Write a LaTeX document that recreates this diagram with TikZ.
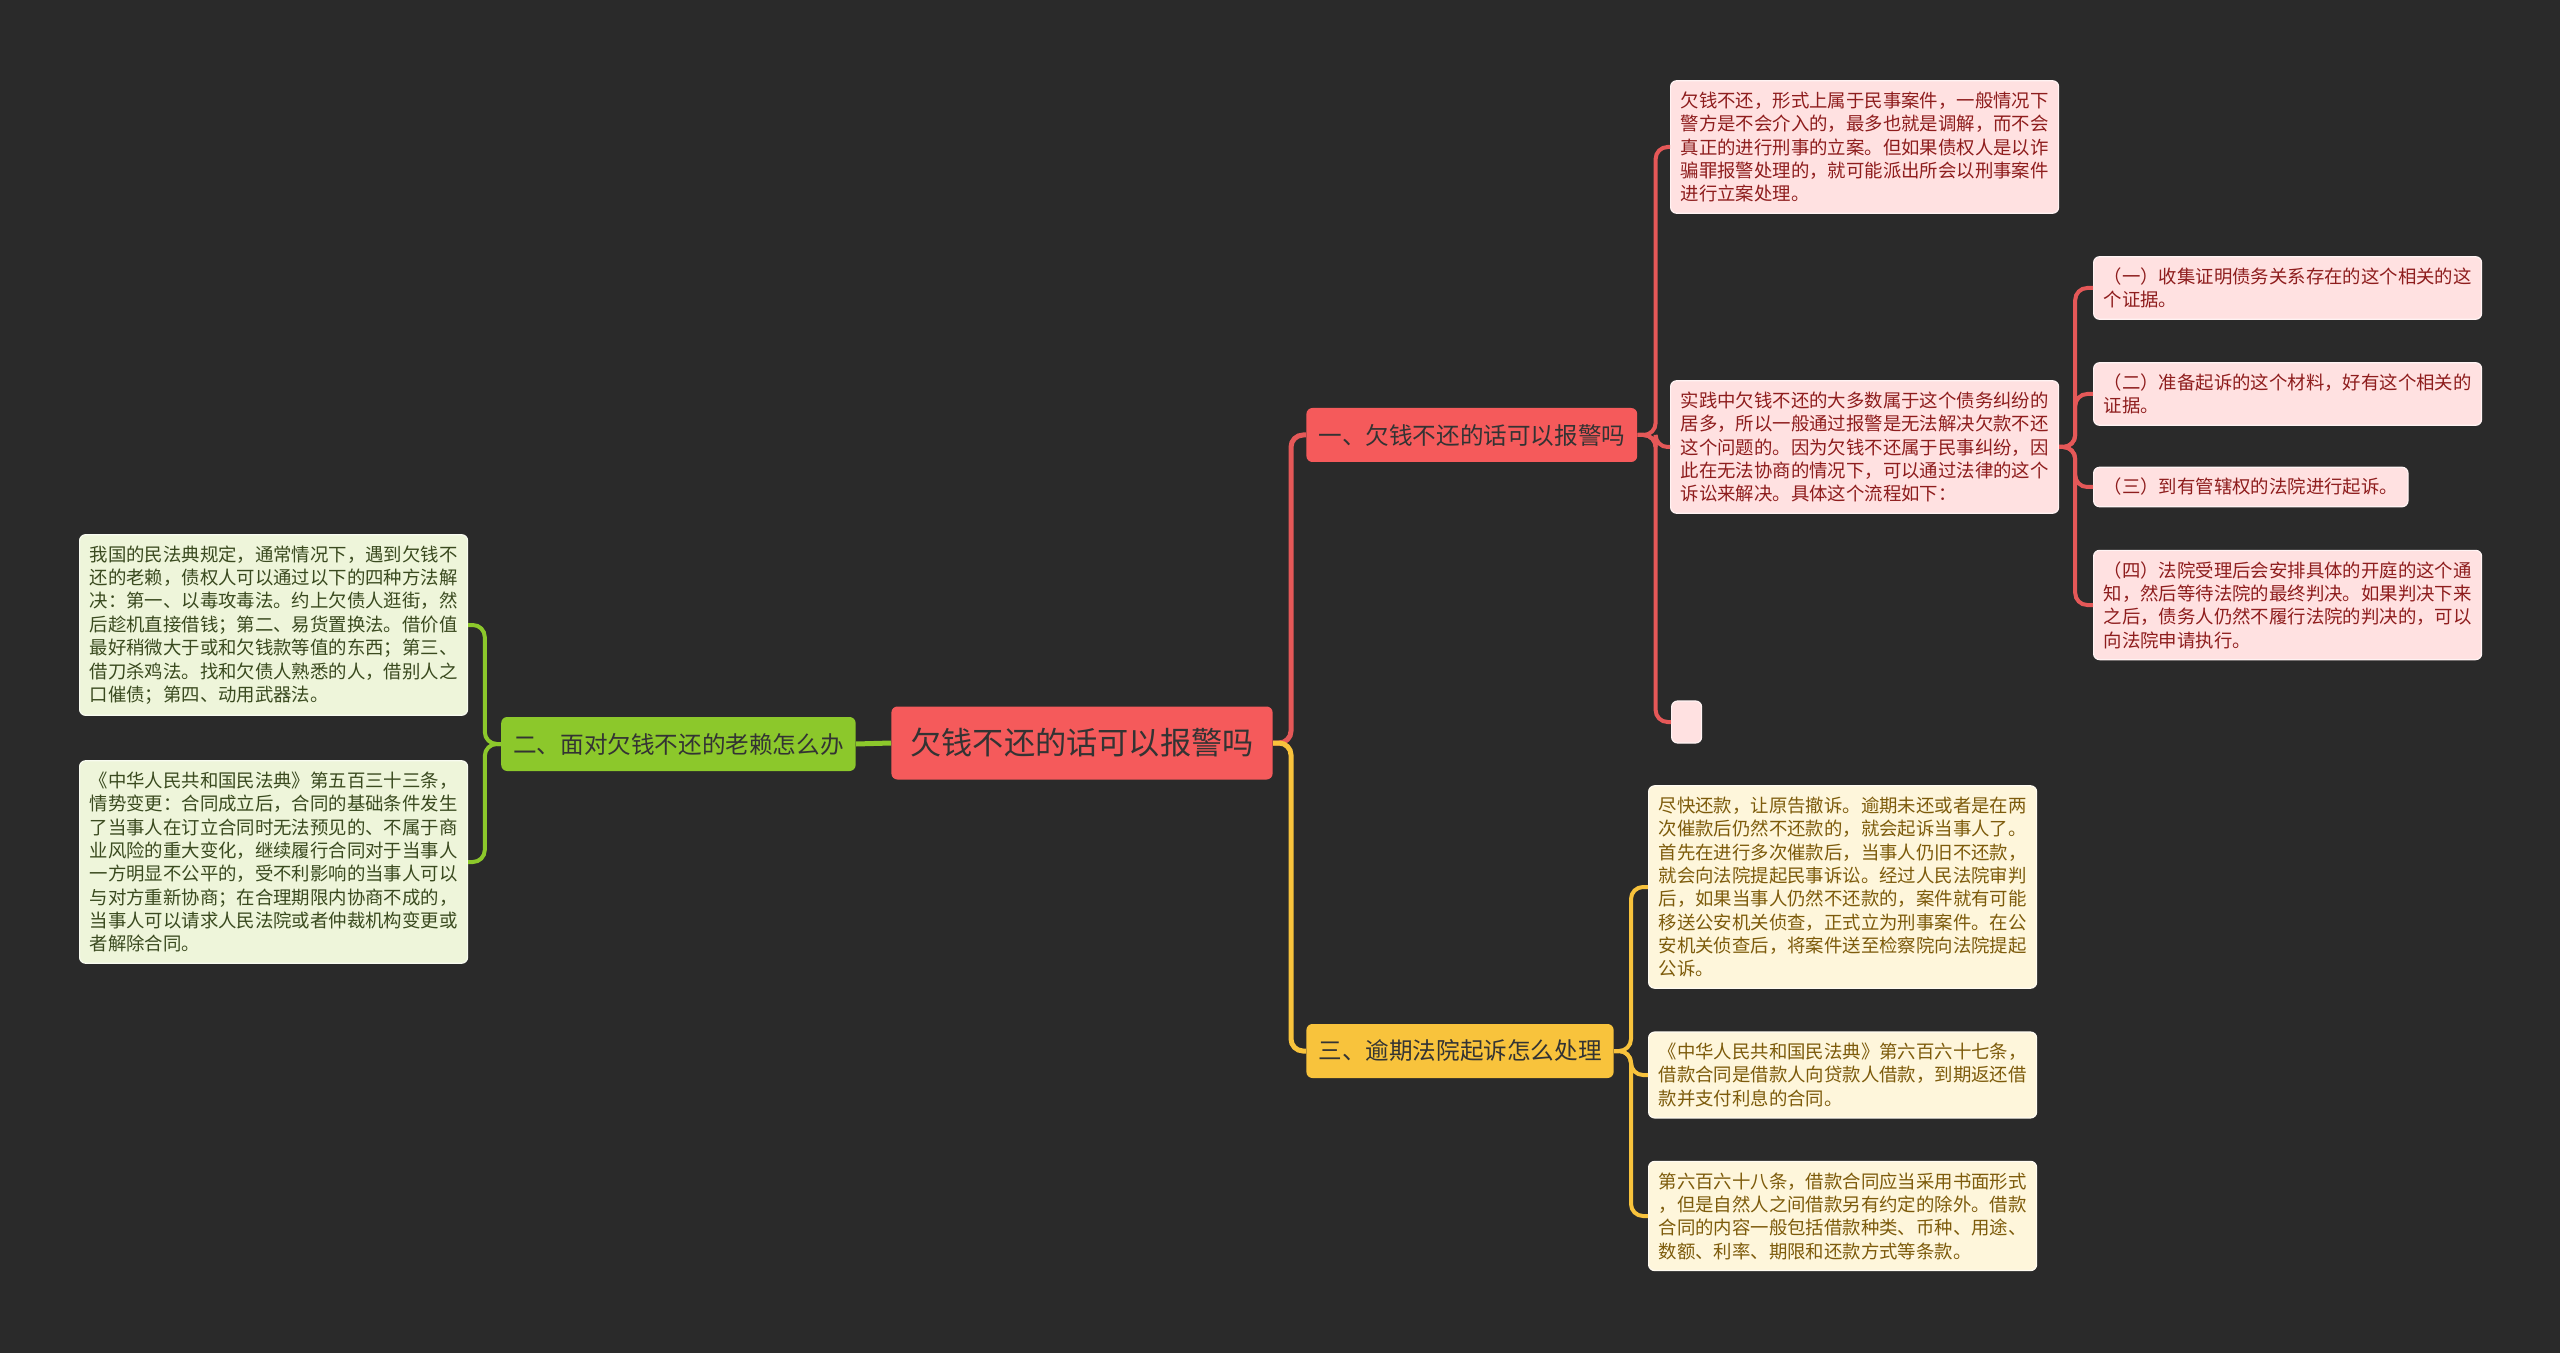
\documentclass[tikz,border=0pt]{standalone}
\usepackage{fontspec}
\setmainfont{Noto Sans CJK SC}
\usepackage{xcolor}
\usepackage{tikz}
\usetikzlibrary{positioning}

\definecolor{bgdark}{HTML}{2A2A2A}
\definecolor{rootred}{HTML}{F55A5B}
\definecolor{linered}{HTML}{E55858}
\definecolor{leafred}{HTML}{FFE1E1}
\definecolor{textred}{HTML}{8E1D1D}
\definecolor{topicgreen}{HTML}{8CC82B}
\definecolor{leafgreen}{HTML}{EEF5DA}
\definecolor{textgreen}{HTML}{3A4A1F}
\definecolor{topicyellow}{HTML}{F8C33C}
\definecolor{leafyellow}{HTML}{FEF6DB}
\definecolor{textyellow}{HTML}{7D5B0B}
\definecolor{darktext}{HTML}{333333}

\newcommand\rootfont{\fontsize{15.6pt}{18pt}\selectfont}
\newcommand\topicfont{\fontsize{11.8pt}{14pt}\selectfont}
\newcommand\leaffont{\fontsize{9.2pt}{11.67pt}\selectfont}

\begin{document}
\begin{tikzpicture}[
    x=0.5pt, y=-0.5pt,
    topic/.style={rounded corners=3pt, inner xsep=6pt, inner ysep=0pt, minimum height=27pt, anchor=west, font=\topicfont, text=darktext},
    leaf/.style={draw, line width=0.6pt, rounded corners=3pt, align=left, inner xsep=5pt, inner ysep=5.5pt, anchor=west, font=\leaffont},
    redleaf/.style={leaf, fill=leafred, draw=white!60!leafred, text=textred},
    greenleaf/.style={leaf, fill=leafgreen, draw=white!60!leafgreen, text=textgreen},
    yellowleaf/.style={leaf, fill=leafyellow, draw=white!60!leafyellow, text=textyellow},
    redtrunk/.style={draw=linered, line width=2.5pt, rounded corners=6pt},
    greentrunk/.style={draw=topicgreen, line width=2.5pt},
    yellowtrunk/.style={draw=topicyellow, line width=2.5pt, rounded corners=6pt},
    redline/.style={draw=linered, line width=2pt, rounded corners=6pt},
    greenline/.style={draw=topicgreen, line width=2pt, rounded corners=6pt},
    yellowline/.style={draw=topicyellow, line width=2pt, rounded corners=6pt},
]
\fill[bgdark] (0,0) rectangle (2560,1353);

\node[topic, fill=rootred, minimum height=36.5pt, inner xsep=9.5pt, font=\rootfont] (root) at (891,743) {欠钱不还的话可以报警吗};

\node[topic, fill=rootred] (law) at (1306,435) {一、欠钱不还的话可以报警吗};
\node[topic, fill=topicgreen, anchor=east] (deal) at (856,744) {二、面对欠钱不还的老赖怎么办};
\node[topic, fill=topicyellow] (court) at (1306,1051) {三、逾期法院起诉怎么处理};

\node[redleaf] (lawa) at (1670,147) {欠钱不还，形式上属于民事案件，一般情况下\\警方是不会介入的，最多也就是调解，而不会\\真正的进行刑事的立案。但如果债权人是以诈\\骗罪报警处理的，就可能派出所会以刑事案件\\进行立案处理。};
\node[redleaf] (lawb) at (1670,447) {实践中欠钱不还的大多数属于这个债务纠纷的\\居多，所以一般通过报警是无法解决欠款不还\\这个问题的。因为欠钱不还属于民事纠纷，因\\此在无法协商的情况下，可以通过法律的这个\\诉讼来解决。具体这个流程如下：};
\node[redleaf, inner sep=0pt, minimum width=15pt, minimum height=21pt] (lawc) at (1671,722) {};

\node[redleaf] (stepa) at (2093,288) {（一）收集证明债务关系存在的这个相关的这\\个证据。};
\node[redleaf] (stepb) at (2093,394) {（二）准备起诉的这个材料，好有这个相关的\\证据。};
\node[redleaf] (stepc) at (2093,487) {（三）到有管辖权的法院进行起诉。};
\node[redleaf] (stepd) at (2093,605) {（四）法院受理后会安排具体的开庭的这个通\\知，然后等待法院的最终判决。如果判决下来\\之后，债务人仍然不履行法院的判决的，可以\\向法院申请执行。};

\node[greenleaf] (deala) at (79,625) {我国的民法典规定，通常情况下，遇到欠钱不\\还的老赖，债权人可以通过以下的四种方法解\\决：第一、以毒攻毒法。约上欠债人逛街，然\\后趁机直接借钱；第二、易货置换法。借价值\\最好稍微大于或和欠钱款等值的东西；第三、\\借刀杀鸡法。找和欠债人熟悉的人，借别人之\\口催债；第四、动用武器法。};
\node[greenleaf] (dealb) at (79,862) {《中华人民共和国民法典》第五百三十三条，\\情势变更：合同成立后，合同的基础条件发生\\了当事人在订立合同时无法预见的、不属于商\\业风险的重大变化，继续履行合同对于当事人\\一方明显不公平的，受不利影响的当事人可以\\与对方重新协商；在合理期限内协商不成的，\\当事人可以请求人民法院或者仲裁机构变更或\\者解除合同。};

\node[yellowleaf] (courta) at (1648,887) {尽快还款，让原告撤诉。逾期未还或者是在两\\次催款后仍然不还款的，就会起诉当事人了。\\首先在进行多次催款后，当事人仍旧不还款，\\就会向法院提起民事诉讼。经过人民法院审判\\后，如果当事人仍然不还款的，案件就有可能\\移送公安机关侦查，正式立为刑事案件。在公\\安机关侦查后，将案件送至检察院向法院提起\\公诉。};
\node[yellowleaf] (courtb) at (1648,1075) {《中华人民共和国民法典》第六百六十七条，\\借款合同是借款人向贷款人借款，到期返还借\\款并支付利息的合同。};
\node[yellowleaf] (courtc) at (1648,1216) {第六百六十八条，借款合同应当采用书面形式\\，但是自然人之间借款另有约定的除外。借款\\合同的内容一般包括借款种类、币种、用途、\\数额、利率、期限和还款方式等条款。};

\draw[redtrunk] (root.east) -- ++(18,0) |- (law.west);
\draw[yellowtrunk] (root.east) -- ++(18,0) |- (court.west);
\draw[greentrunk] (root.west) -- (deal.east);
\foreach \n in {lawa,lawb,lawc}
  \draw[redline] (law.east) -- ++(18,0) |- (\n.west);
\foreach \n in {stepa,stepb,stepc,stepd}
  \draw[redline] (lawb.east) -- ++(16,0) |- (\n.west);
\foreach \n in {deala,dealb}
  \draw[greenline] (deal.west) -- ++(-16,0) |- (\n.east);
\foreach \n in {courta,courtb,courtc}
  \draw[yellowline] (court.east) -- ++(17,0) |- (\n.west);
\end{tikzpicture}
\end{document}
